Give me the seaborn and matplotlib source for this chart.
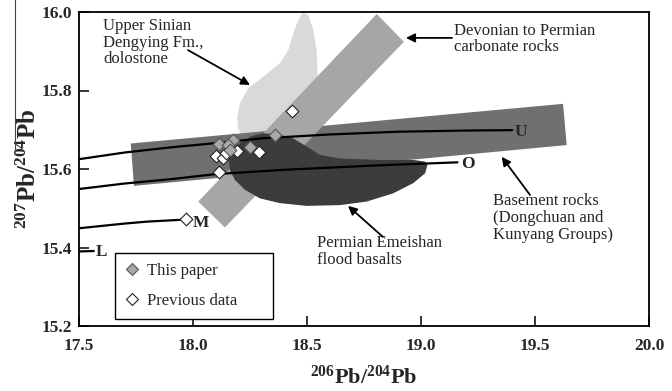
import numpy as np
import pandas as pd
import matplotlib
matplotlib.use("Agg")
import matplotlib.pyplot as plt
from matplotlib.lines import Line2D
import seaborn as sns

# ---------------- data ----------------
# This paper (grey diamonds)
this_x = [18.114, 18.177, 18.155, 18.162, 18.250, 18.360]
this_y = [15.664, 15.675, 15.662, 15.649, 15.655, 15.687]
# Previous data (open diamonds)
prev_x = [18.100, 18.133, 18.143, 18.192, 18.289, 18.114, 18.433, 17.969]
prev_y = [15.632, 15.628, 15.641, 15.647, 15.643, 15.592, 15.748, 15.472]

# Growth curves (Zartman & Doe)
curve_U_x = [17.5, 17.7, 17.9, 18.1, 18.3, 18.6, 18.9, 19.2, 19.40]
curve_U_y = [15.625, 15.642, 15.655, 15.666, 15.678, 15.688, 15.695, 15.698, 15.699]
curve_O_x = [17.5, 17.7, 17.9, 18.1, 18.4, 18.8, 19.16]
curve_O_y = [15.549, 15.563, 15.574, 15.587, 15.598, 15.609, 15.617]
curve_M_x = [17.5, 17.6, 17.7, 17.8, 17.96]
curve_M_y = [15.449, 15.455, 15.461, 15.466, 15.471]
curve_L_x = [17.5, 17.565]
curve_L_y = [15.390, 15.391]

# Field outlines
sinian_x = [18.482, 18.462, 18.440, 18.418, 18.382, 18.308, 18.243, 18.206, 18.194,
            18.197, 18.219, 18.338, 18.469, 18.535, 18.548, 18.546, 18.542, 18.528, 18.506]
sinian_y = [15.999, 15.980, 15.946, 15.903, 15.870, 15.835, 15.806, 15.768, 15.733,
            15.704, 15.679, 15.669, 15.679, 15.750, 15.814, 15.860, 15.903, 15.954, 15.992]
basement_x = [17.727, 19.623, 19.639, 17.741]
basement_y = [15.665, 15.766, 15.661, 15.557]
carbonate_x = [18.806, 18.925, 18.140, 18.023]
carbonate_y = [15.995, 15.924, 15.451, 15.517]
emeishan_x = [18.155, 18.162, 18.184, 18.228, 18.294, 18.382, 18.499, 18.645, 18.762,
              18.878, 18.966, 19.018, 19.028, 19.018, 18.966, 18.820, 18.645, 18.557,
              18.499, 18.440, 18.382, 18.308, 18.259, 18.206, 18.171]
emeishan_y = [15.631, 15.597, 15.572, 15.547, 15.525, 15.513, 15.506, 15.508, 15.517,
              15.538, 15.564, 15.589, 15.610, 15.619, 15.623, 15.623, 15.627, 15.636,
              15.657, 15.678, 15.687, 15.691, 15.684, 15.666, 15.648]

x_ticks = [17.5, 18.0, 18.5, 19.0, 19.5, 20.0]
y_ticks = [15.2, 15.4, 15.6, 15.8, 16.0]

# ---------------- style ----------------
sns.set_style("ticks")
plt.rcParams["font.family"] = ["Liberation Serif", "DejaVu Serif"]
plt.rcParams["mathtext.fontset"] = "custom"
plt.rcParams["mathtext.rm"] = "Liberation Serif"
plt.rcParams["mathtext.bf"] = "Liberation Serif:bold"
plt.rcParams["mathtext.it"] = "Liberation Serif:italic"

fig = plt.figure(figsize=(6.72, 3.91), dpi=100)
ax = fig.add_axes([79 / 672, 1 - 326 / 391, 570 / 672, 314 / 391])

# fields
ax.fill(sinian_x, sinian_y, color="#d9d9d9", lw=0, zorder=1)
ax.fill(basement_x, basement_y, color="#707070", lw=0, zorder=2)
ax.fill(carbonate_x, carbonate_y, color="#a6a6a6", lw=0, zorder=3)
ax.fill(emeishan_x, emeishan_y, color="#3c3c3c", lw=0, zorder=4)

# growth curves
curves = pd.concat([
    pd.DataFrame({"x": curve_U_x, "y": curve_U_y, "c": "U"}),
    pd.DataFrame({"x": curve_O_x, "y": curve_O_y, "c": "O"}),
    pd.DataFrame({"x": curve_M_x, "y": curve_M_y, "c": "M"}),
    pd.DataFrame({"x": curve_L_x, "y": curve_L_y, "c": "L"}),
])
sns.lineplot(data=curves, x="x", y="y", units="c", estimator=None, sort=False,
             color="black", lw=1.6, ax=ax, zorder=5, legend=False)

# data points
prev_df = pd.DataFrame({"x": prev_x, "y": prev_y})
this_df = pd.DataFrame({"x": this_x, "y": this_y})
sns.scatterplot(data=prev_df, x="x", y="y", marker="D", s=42, color="white",
                edgecolor="#222222", linewidth=0.8, ax=ax, zorder=6, legend=False)
sns.scatterplot(data=this_df, x="x", y="y", marker="D", s=42, color="#a9a9a9",
                edgecolor="#555555", linewidth=0.8, ax=ax, zorder=7, legend=False)

# curve labels
lab_kw = dict(fontsize=12.5, fontweight="bold", va="center", ha="left", zorder=8)
ax.text(19.412, 15.695, "U", **lab_kw)
ax.text(19.178, 15.613, "O", **lab_kw)
ax.text(17.999, 15.462, "M", **lab_kw)
ax.text(17.575, 15.388, "L", **lab_kw)

# annotations
txt_kw = dict(fontsize=12, va="top", ha="left", linespacing=1.05, zorder=8)
arr = dict(arrowstyle="-|>", color="black", lw=1.3, mutation_scale=13, shrinkA=0, shrinkB=0)
ax.text(17.605, 15.984, "Upper Sinian\nDengying Fm.,\ndolostone", **txt_kw)
ax.annotate("", xy=(18.25, 15.814), xytext=(17.978, 15.903), arrowprops=arr, zorder=8)
ax.text(19.145, 15.973, "Devonian to Permian\ncarbonate rocks", **txt_kw)
ax.annotate("", xy=(18.934, 15.934), xytext=(19.136, 15.934), arrowprops=arr, zorder=8)
ax.text(19.316, 15.538, "Basement rocks\n(Dongchuan and\nKunyang Groups)", **txt_kw)
ax.annotate("", xy=(19.354, 15.631), xytext=(19.478, 15.534), arrowprops=arr, zorder=8)
ax.text(18.543, 15.431, "Permian Emeishan\nflood basalts", **txt_kw)
ax.annotate("", xy=(18.680, 15.506), xytext=(18.833, 15.427), arrowprops=arr, zorder=8)

# axes
ax.set_xlim(17.5, 20.0)
ax.set_ylim(15.2, 16.0)
ax.set_xticks(x_ticks)
ax.set_yticks(y_ticks)
ax.set_xticklabels([f"{v:.1f}" for v in x_ticks])
ax.set_yticklabels([f"{v:.1f}" for v in y_ticks])
ax.tick_params(direction="in", length=7, width=1.3, labelsize=12.5,
               top=False, right=False)
ax.tick_params(axis="x", pad=9)
ax.tick_params(axis="y", pad=5)
for lab in ax.get_xticklabels() + ax.get_yticklabels():
    lab.set_fontweight("bold")
for sp in ax.spines.values():
    sp.set_visible(True)
    sp.set_linewidth(1.3)
    sp.set_color("black")

ax.set_xlabel(r"$\mathbf{^{206}Pb/^{204}Pb}$", fontsize=16, labelpad=8)
ax.set_ylabel(r"$\mathbf{^{207}Pb/^{204}Pb}$", fontsize=18, labelpad=0)

# legend
handles = [
    Line2D([], [], marker="D", ls="none", markersize=6.5, markerfacecolor="#a9a9a9",
           markeredgecolor="#555555", markeredgewidth=0.8),
    Line2D([], [], marker="D", ls="none", markersize=6.5, markerfacecolor="white",
           markeredgecolor="#222222", markeredgewidth=0.8),
]
leg = ax.legend(handles, ["This paper", "Previous data"], loc="upper left",
                bbox_to_anchor=(0.063, 0.035, 0.277, 0.198), mode="expand",
                frameon=True, fancybox=False, edgecolor="black", framealpha=1,
                fontsize=12, handlelength=0.8, handletextpad=0.5,
                borderpad=0.6, labelspacing=0.85, borderaxespad=0)
leg.get_frame().set_linewidth(1.0)
leg.set_zorder(9)

# scan edge line at left of the figure
fig.add_artist(Line2D([15 / 672, 15 / 672], [1.0, 1 - 152 / 391],
                      transform=fig.transFigure, color="#444444", lw=0.8))

fig.savefig("out.png", dpi=100)
